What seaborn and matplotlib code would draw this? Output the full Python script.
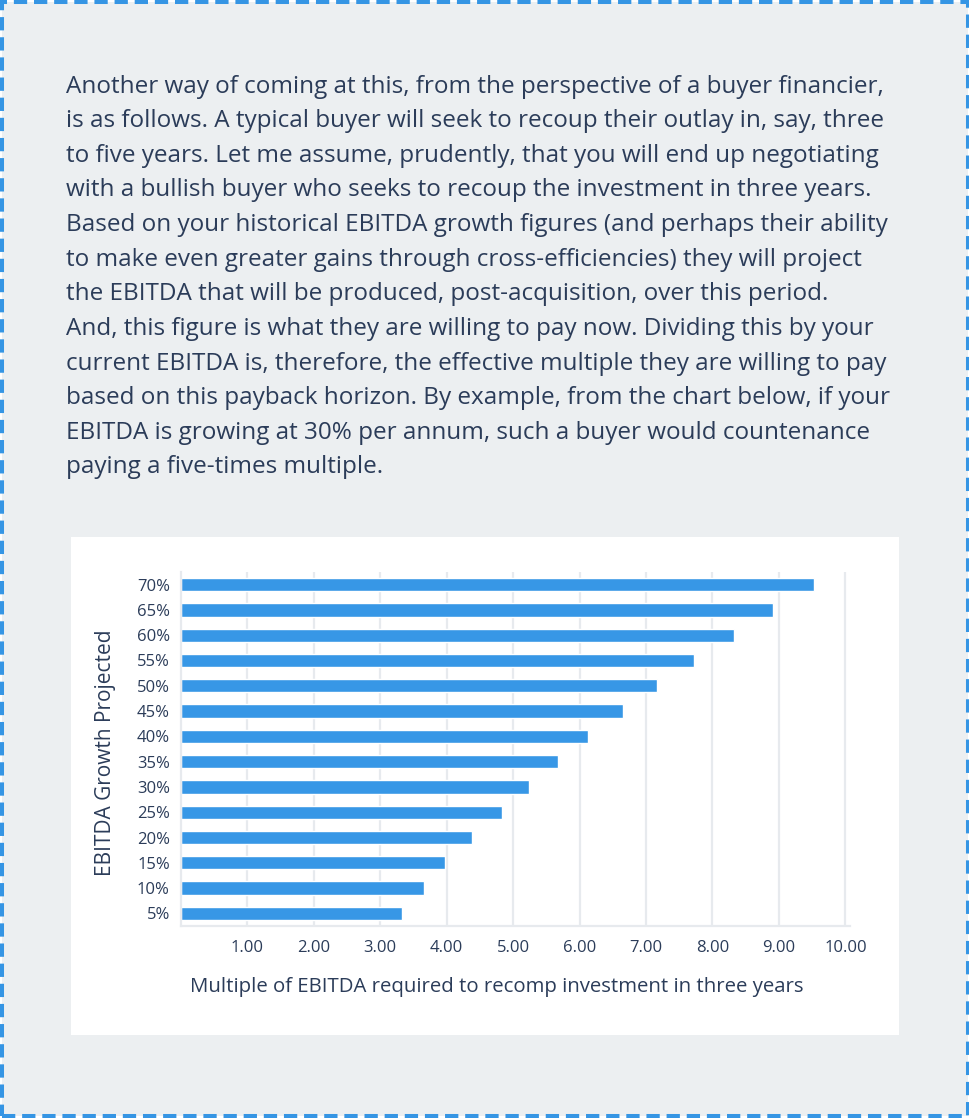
import matplotlib.pyplot as plt
from matplotlib.patches import Rectangle
from matplotlib.ticker import FixedLocator
import seaborn as sns
import pandas as pd

# data
growth = ["5%", "10%", "15%", "20%", "25%", "30%", "35%",
          "40%", "45%", "50%", "55%", "60%", "65%", "70%"]
multiple = [3.33, 3.66, 3.98, 4.38, 4.83, 5.24, 5.68,
            6.13, 6.65, 7.17, 7.72, 8.32, 8.91, 9.53]
x_ticks = [1, 2, 3, 4, 5, 6, 7, 8, 9, 10]
x_tick_labels = ["1.00", "2.00", "3.00", "4.00", "5.00",
                 "6.00", "7.00", "8.00", "9.00", "10.00"]
x_title = "Multiple of EBITDA required to recomp investment in three years"
y_title = "EBITDA Growth Projected"
paragraph = [
    "Another way of coming at this, from the perspective of a buyer financier,",
    "is as follows. A typical buyer will seek to recoup their outlay in, say, three",
    "to five years. Let me assume, prudently, that you will end up negotiating",
    "with a bullish buyer who seeks to recoup the investment in three years.",
    "Based on your historical EBITDA growth figures (and perhaps their ability",
    "to make even greater gains through cross-efficiencies) they will project",
    "the EBITDA that will be produced, post-acquisition, over this period.",
    "And, this figure is what they are willing to pay now. Dividing this by your",
    "current EBITDA is, therefore, the effective multiple they are willing to pay",
    "based on this payback horizon. By example, from the chart below, if your",
    "EBITDA is growing at 30% per annum, such a buyer would countenance",
    "paying a five-times multiple.",
]

BG = "#eceff1"
BLUE = "#3595e4"
BAR = "#3797e6"
TEXT = "#2b3c59"
GRID = "#e7eaee"

W, H = 970, 1118

sns.set_style("white")
plt.rcParams["font.family"] = ["Open Sans", "DejaVu Sans"]

fig = plt.figure(figsize=(W / 100, H / 100), dpi=100)
fig.patch.set_facecolor("white")


def fx(px):
    return px / W


def fy(py):
    return 1 - py / H


def fit(t, target, renderer, vertical=False):
    # scale a text's font size so it spans the target pixel length
    for _ in range(2):
        bb = t.get_window_extent(renderer)
        cur = bb.height if vertical else bb.width
        t.set_fontsize(t.get_fontsize() * target / cur)


# page background with dashed border, then white chart panel
fig.patches.append(Rectangle((fx(2), fy(1116)), fx(966), 1114 / H,
                             transform=fig.transFigure, facecolor=BG,
                             edgecolor=BLUE, lw=2.9, linestyle=(0, (3.3, 1.7)),
                             zorder=-2))
fig.patches.append(Rectangle((fx(71), fy(1035)), fx(828), 498 / H,
                             transform=fig.transFigure, facecolor="white",
                             edgecolor="none", zorder=-1))

renderer = fig.canvas.get_renderer()

# paragraph
lines = []
for i, line in enumerate(paragraph):
    t = fig.text(fx(66), fy(92.7 + i * 34.6), line, color=TEXT,
                 fontsize=16, ha="left", va="baseline")
    lines.append(t)
fit(lines[0], 818, renderer)
for t in lines[1:]:
    t.set_fontsize(lines[0].get_fontsize())

# bar chart
ax = fig.add_axes([fx(181), fy(926), fx(850 - 181), (926 - 572) / H])
ax.set_facecolor("white")
df = pd.DataFrame({"growth": growth, "multiple": multiple})
sns.barplot(data=df, x="multiple", y="growth", order=growth[::-1],
            color=BAR, saturation=1, width=0.53, ax=ax)

ax.set_xlim(0, 10.07)
ax.xaxis.set_major_locator(FixedLocator(x_ticks))
ax.set_xticklabels(x_tick_labels)
ax.xaxis.set_minor_locator(FixedLocator([0]))
ax.yaxis.set_minor_locator(FixedLocator([k + 0.5 for k in range(len(growth) - 1)]))

ax.grid(axis="x", color=GRID, lw=1.6)
ax.set_axisbelow(True)
sns.despine(ax=ax)
for side in ["left", "bottom"]:
    ax.spines[side].set_color(GRID)
    ax.spines[side].set_linewidth(1.6)

ax.tick_params(axis="x", which="major", length=0, pad=10,
               labelsize=12, labelcolor=TEXT)
ax.tick_params(axis="x", which="minor", length=7, width=1.6, color=GRID)
ax.tick_params(axis="y", which="major", length=0, pad=8,
               labelsize=12, labelcolor=TEXT)
ax.tick_params(axis="y", which="minor", length=4, width=1.6, color=GRID)

ax.set_xlabel(x_title, color=TEXT, fontsize=14)
ax.set_ylabel(y_title, color=TEXT, fontsize=14)
ax.xaxis.set_label_coords((497 - 181) / 669, (926 - 987) / 354)
ax.yaxis.set_label_coords((106 - 181) / 669, (926 - 753) / 354)
ax.xaxis.label.set_va("center")
ax.yaxis.label.set_va("center")
fit(ax.xaxis.label, 614, renderer)
fit(ax.yaxis.label, 247, renderer, vertical=True)

fig.savefig("out.png", dpi=100, facecolor=fig.get_facecolor())
